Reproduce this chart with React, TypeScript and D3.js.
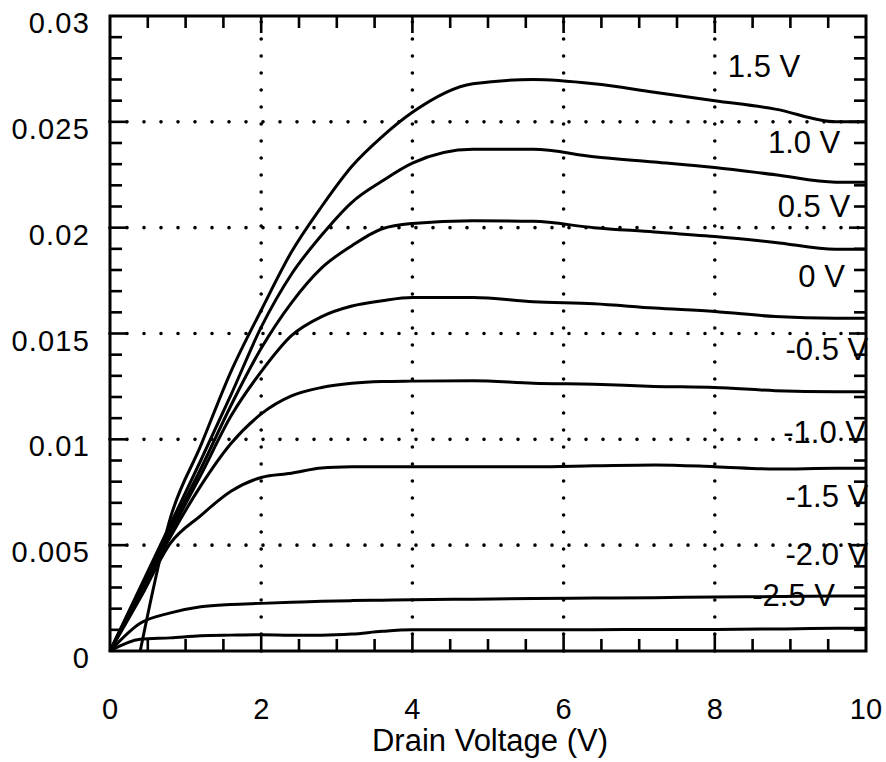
import React from 'react';
import * as d3 from 'd3';

// Drain voltage samples (V)
const voltages = [0, 0.4, 0.8, 1.2, 1.6, 2.0, 2.4, 2.8, 3.2, 3.6, 4.0, 4.8, 5.6, 6.4, 7.2, 8.0, 8.8, 9.6, 10];

// Drain current (A) for each curve
const curveA = [0, 0, 0.0063, 0.0097, 0.0132, 0.0161, 0.01885, 0.021, 0.0229, 0.0243, 0.02545, 0.0268, 0.027, 0.0268, 0.0264, 0.026, 0.0256, 0.025, 0.025];
const curveB = [0, 0.003, 0.006, 0.009, 0.0121, 0.0153, 0.0178, 0.01965, 0.0212, 0.0222, 0.02305, 0.0237, 0.0237, 0.02335, 0.0231, 0.02284, 0.0225, 0.02215, 0.02215];
const curveC = [0, 0.0029, 0.0058, 0.0086, 0.0116, 0.0143, 0.01645, 0.0181, 0.01915, 0.01995, 0.0202, 0.02033, 0.0203, 0.02, 0.0198, 0.01958, 0.0193, 0.01898, 0.01898];
const curveD = [0, 0.0028, 0.0056, 0.0083, 0.0111, 0.0132, 0.0149, 0.0158, 0.0163, 0.01655, 0.0167, 0.0167, 0.0165, 0.0164, 0.0162, 0.01604, 0.0158, 0.01572, 0.01572];
const curveE = [0, 0.0027, 0.0054, 0.0078, 0.0098, 0.0112, 0.01205, 0.01245, 0.01265, 0.01273, 0.01275, 0.01277, 0.01265, 0.0126, 0.0125, 0.01245, 0.0123, 0.01225, 0.01225];
const curveF = [0, 0.0025, 0.0051, 0.0064, 0.00755, 0.0082, 0.0084, 0.00865, 0.0087, 0.00871, 0.00871, 0.00871, 0.00871, 0.00875, 0.00879, 0.00871, 0.0086, 0.00863, 0.00863];
const curveG = [0, 0.00131, 0.0018, 0.00209, 0.0022, 0.00225, 0.0023, 0.00235, 0.00238, 0.0024, 0.00242, 0.00245, 0.00248, 0.0025, 0.00252, 0.00255, 0.00257, 0.0026, 0.0026];
const curveH = [0, 0.00055, 0.00062, 0.00072, 0.00075, 0.00077, 0.00075, 0.00075, 0.0008, 0.00093, 0.001, 0.001, 0.001, 0.001, 0.00102, 0.00102, 0.00104, 0.00107, 0.00107];
const curves = [curveA, curveB, curveC, curveD, curveE, curveF, curveG, curveH];

// Gate-voltage labels: text, anchor voltage (right end), anchor current (baseline)
const gateLabels = ['1.5 V', '1.0 V', '0.5 V', '0 V', '-0.5 V', '-1.0 V', '-1.5 V', '-2.0 V', '-2.5 V'];
const gateLabelV = [9.13, 9.66, 9.79, 9.72, 10.03, 10.0, 10.03, 10.03, 9.59];
const gateLabelI = [0.02714, 0.02353, 0.02051, 0.0172, 0.01375, 0.00983, 0.0068, 0.00406, 0.00213];

// Axis ticks
const xTicks = [0, 2, 4, 6, 8, 10];
const xTickLabels = ['0', '2', '4', '6', '8', '10'];
const yTicks = [0, 0.005, 0.01, 0.015, 0.02, 0.025, 0.03];
const yTickLabels = ['0', '0.005', '0.01', '0.015', '0.02', '0.025', '0.03'];
const xGrid = [2, 4, 6, 8];
const yGrid = [0.005, 0.01, 0.015, 0.02, 0.025];
const xMinor = d3.range(0.5, 10, 0.5).filter((v) => Math.abs(v % 2) > 1e-9);
const yMinor = d3.range(1, 30).filter((k) => k % 5 !== 0).map((k) => k / 1000);

const xTitle = 'Drain Voltage (V)';

const W = 886;
const H = 762;
const FONT = '"Liberation Sans", Arial, Helvetica, sans-serif';

export default function App() {
  const x = d3.scaleLinear().domain([0, 10]).range([110, 866]);
  const y = d3.scaleLinear().domain([0, 0.03]).range([651, 16]);

  const x0 = x(0), x1 = x(10), y0 = y(0), y1 = y(0.03);
  const minorLen = 12;
  const majorLen = 17;

  const lineGen = d3
    .line<[number, number]>()
    .x((d) => x(d[0]))
    .y((d) => y(d[1]))
    .curve(d3.curveMonotoneX);

  return (
    <svg
      width={W}
      height={H}
      viewBox={`0 0 ${W} ${H}`}
      style={{ position: 'absolute', left: 0, top: 0, background: '#fff' }}
    >
      <rect x={0} y={0} width={W} height={H} fill="#fff" />
      {/* dotted grid */}
      <g stroke="#000" strokeWidth={3.6} strokeLinecap="round" strokeDasharray="0 17" fill="none">
        {xGrid.map((v) => (
          <line key={'gx' + v} x1={x(v)} x2={x(v)} y1={y0} y2={y1} />
        ))}
        {yGrid.map((v) => (
          <line key={'gy' + v} x1={x0} x2={x1} y1={y(v)} y2={y(v)} />
        ))}
      </g>

      {/* curves */}
      <g fill="none" stroke="#000" strokeWidth={3} strokeLinejoin="round">
        {curves.map((c, i) => {
          let idx = 0;
          while (idx + 1 < c.length && c[idx + 1] === 0) idx++;
          const pts = c.map((v, j) => [voltages[j], v] as [number, number]).slice(idx);
          return <path key={'c' + i} d={lineGen(pts) || ''} />;
        })}
      </g>

      {/* frame */}
      <rect x={x0} y={y1} width={x1 - x0} height={y0 - y1} fill="none" stroke="#000" strokeWidth={3} />

      {/* ticks */}
      <g stroke="#000" strokeWidth={2.6}>
        {xMinor.map((v) => (
          <g key={'xm' + v}>
            <line x1={x(v)} x2={x(v)} y1={y0} y2={y0 - minorLen} />
            <line x1={x(v)} x2={x(v)} y1={y1} y2={y1 + minorLen} />
          </g>
        ))}
        {xGrid.map((v) => (
          <g key={'xM' + v}>
            <line x1={x(v)} x2={x(v)} y1={y0} y2={y0 - majorLen} />
            <line x1={x(v)} x2={x(v)} y1={y1} y2={y1 + majorLen} />
          </g>
        ))}
        {yMinor.map((v) => (
          <g key={'ym' + v}>
            <line x1={x0} x2={x0 + minorLen} y1={y(v)} y2={y(v)} />
            <line x1={x1} x2={x1 - minorLen} y1={y(v)} y2={y(v)} />
          </g>
        ))}
        {yGrid.map((v) => (
          <g key={'yM' + v}>
            <line x1={x0} x2={x0 + majorLen} y1={y(v)} y2={y(v)} />
            <line x1={x1} x2={x1 - majorLen} y1={y(v)} y2={y(v)} />
          </g>
        ))}
      </g>

      {/* tick labels */}
      <g fontFamily={FONT} fontSize={29} fill="#000">
        {yTicks.map((v, i) => (
          <text key={'yl' + v} x={90} y={y(v) + 17} textAnchor="end" letterSpacing={1.2}>
            {yTickLabels[i]}
          </text>
        ))}
        {xTicks.map((v, i) => (
          <text key={'xl' + v} x={x(v)} y={719} textAnchor="middle">
            {xTickLabels[i]}
          </text>
        ))}
      </g>

      <text x={(x0 + x1) / 2 + 2} y={751} textAnchor="middle" fontFamily={FONT} fontSize={31} fill="#000">
        {xTitle}
      </text>

      {/* gate labels */}
      <g fontFamily={FONT} fontSize={31} fill="#000">
        {gateLabels.map((t, i) => (
          <text key={'gl' + i} x={x(gateLabelV[i])} y={y(gateLabelI[i])} textAnchor="end">
            {t}
          </text>
        ))}
      </g>
    </svg>
  );
}
